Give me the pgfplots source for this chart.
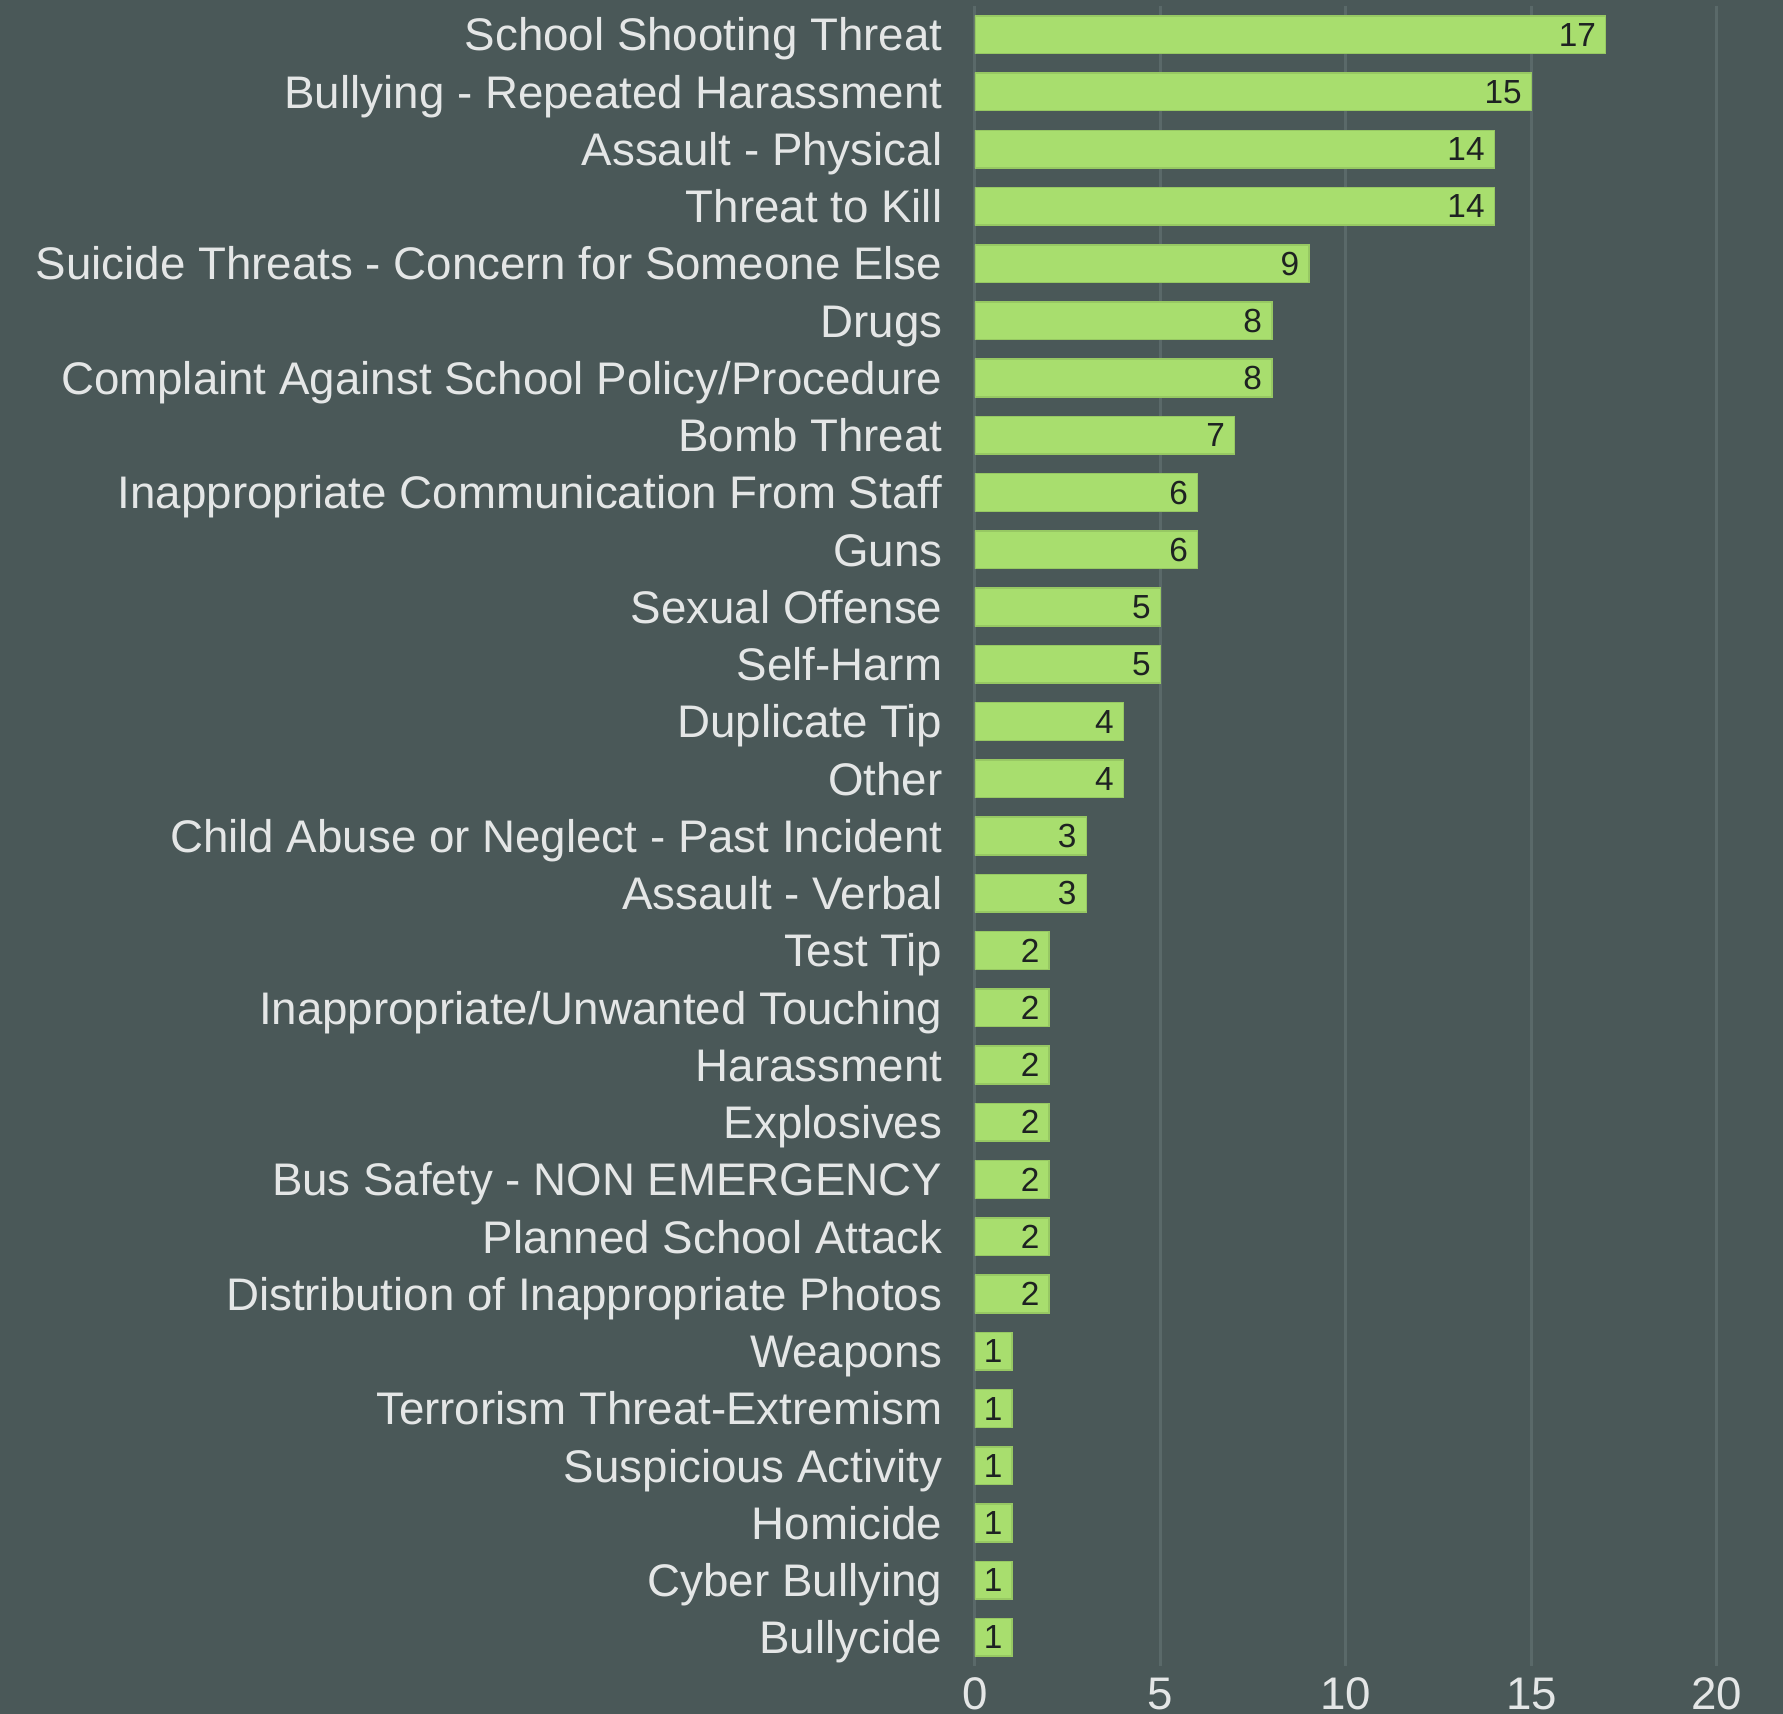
\documentclass[border=0pt]{standalone}
\usepackage{fontspec}
\setmainfont{Liberation Sans}
\usepackage{pgfplots}
\pgfplotsset{compat=1.18}
\definecolor{bgc}{HTML}{4A5858}
\definecolor{barc}{HTML}{A8DE6E}
\definecolor{gridc}{HTML}{5A6969}
\definecolor{txtc}{HTML}{E4E6E6}
\definecolor{valc}{HTML}{1E2222}
\begin{document}
\begin{tikzpicture}
\fill[bgc] (-97.5mm,-4.8mm) rectangle (80.8mm,166.6mm);
\begin{axis}[
  at={(0,0)}, anchor=south west,
  scale only axis,
  width=74.2mm, height=166.0mm,
  xmin=0, xmax=20,
  ymin=-0.5, ymax=28.5,
  y dir=reverse,
  xbar, bar width=3.77mm, bar shift=0pt,
  axis line style={draw=none},
  major tick length=0pt,
  xtick={0,5,10,15,20},
  ytick={0,...,28},
  xmajorgrids=true,
  grid style={draw=gridc, line width=0.3mm},
  /pgf/number format/assume math mode=true,
  xticklabel style={inner sep=0pt, anchor=north, yshift=-1.1mm, text=txtc, font=\fontsize{13pt}{15pt}\selectfont},
  yticklabel style={inner sep=0pt, anchor=base east, xshift=-3.2mm, yshift=-4.65pt, text=txtc, font=\fontsize{13pt}{15pt}\selectfont},
  yticklabels={School Shooting Threat, Bullying - Repeated Harassment, Assault - Physical, Threat to Kill, Suicide Threats - Concern for Someone Else, Drugs, Complaint Against School Policy/Procedure, Bomb Threat, Inappropriate Communication From Staff, Guns, Sexual Offense, Self-Harm, Duplicate Tip, Other, Child Abuse or Neglect - Past Incident, Assault - Verbal, Test Tip, Inappropriate/Unwanted Touching, Harassment, Explosives, Bus Safety - NON EMERGENCY, Planned School Attack, Distribution of Inappropriate Photos, Weapons, Terrorism Threat-Extremism, Suspicious Activity, Homicide, Cyber Bullying, Bullycide},
  nodes near coords,
  nodes near coords style={anchor=base east, inner sep=0pt, xshift=-0.9mm, yshift=-3.3pt, text=valc, font=\fontsize{9.5pt}{11pt}\selectfont},
  point meta=explicit symbolic,
]
\addplot[fill=barc, draw=barc!90!black, line width=0.15mm] coordinates {
(17,0)[17] (15,1)[15] (14,2)[14] (14,3)[14] (9,4)[9] (8,5)[8] (8,6)[8] (7,7)[7]
(6,8)[6] (6,9)[6] (5,10)[5] (5,11)[5] (4,12)[4] (4,13)[4] (3,14)[3] (3,15)[3]
(2,16)[2] (2,17)[2] (2,18)[2] (2,19)[2] (2,20)[2] (2,21)[2] (2,22)[2]
(1,23)[1] (1,24)[1] (1,25)[1] (1,26)[1] (1,27)[1] (1,28)[1]
};
\end{axis}
\end{tikzpicture}
\end{document}
